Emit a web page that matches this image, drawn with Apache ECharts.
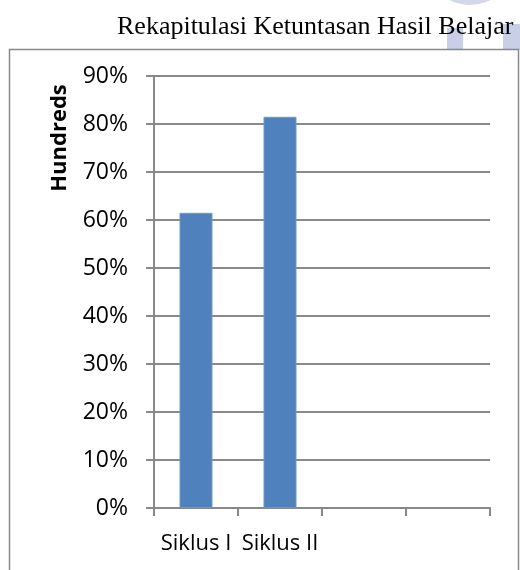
<!DOCTYPE html>
<html>
<head>
	<meta charset="UTF-8">
	<title>Rekapitulasi Ketuntasan Hasil Belajar</title>
	<style>
		html, body { margin: 0; padding: 0; background: #fff; }
		#container { width: 520px; height: 570px; }
	</style>
</head>
<body>
	<div id="container"></div>
	<script src="https://cdn.jsdelivr.net/npm/echarts@6/dist/echarts.min.js"></script>
	<script>
		// data
		var categories = ['Siklus I', 'Siklus II', '', ''];
		var ketuntasan = [61.5, 81.5, null, null];
		var yTicks = [0, 90, 10]; // min, max, interval

		var myChart = echarts.init(document.getElementById('container'));
		var grey = '#898989';
		var sans = '"Open Sans", "Noto Sans", sans-serif';

		var option = {
			animation: false,
			grid: { left: 154, right: 30, top: 76, bottom: 62, containLabel: false },
			graphic: [
				// faint watermark behind the title
				{ type: 'circle', z: -3, shape: { cx: 470, cy: -40, r: 45 }, style: { fill: '#d3d7ea' } },
				{ type: 'rect', z: -3, shape: { x: 447, y: 28, width: 16, height: 22 }, style: { fill: '#c9cfe6' } },
				{ type: 'rect', z: -3, shape: { x: 503, y: 24, width: 17, height: 26 }, style: { fill: '#c9cfe6' } },
				// chart frame
				{ type: 'rect', z: -2, shape: { x: 9.5, y: 49.5, width: 509, height: 540 },
				  style: { fill: '#fff', stroke: grey, lineWidth: 1.5 } },
				{ type: 'text', z: 10, left: 117, top: 14,
				  style: { text: 'Rekapitulasi Ketuntasan Hasil Belajar', font: '26px "Liberation Serif", serif', fill: '#000' } },
				{ type: 'text', z: 10, x: 60, y: 138, rotation: Math.PI / 2,
				  style: { text: 'Hundreds', font: 'bold 22px ' + sans, fill: '#000', align: 'center', verticalAlign: 'middle' } }
			],
			xAxis: {
				type: 'category',
				data: categories,
				boundaryGap: true,
				axisLine: { lineStyle: { color: grey, width: 2 } },
				axisTick: { show: true, interval: 0, length: 8, lineStyle: { color: grey, width: 2 } },
				axisLabel: { interval: 0, margin: 25, color: '#000', fontSize: 22, fontFamily: sans }
			},
			yAxis: {
				type: 'value',
				min: yTicks[0],
				max: yTicks[1],
				interval: yTicks[2],
				axisLine: { show: true, lineStyle: { color: grey, width: 2 } },
				axisTick: { show: true, length: 8, lineStyle: { color: grey, width: 2 } },
				axisLabel: { margin: 26, color: '#000', fontSize: 23, fontFamily: sans, formatter: '{value}%' },
				splitLine: { show: true, lineStyle: { color: grey, width: 2 } }
			},
			series: [
				{
					name: 'Ketuntasan',
					type: 'bar',
					data: ketuntasan,
					barWidth: 33,
					itemStyle: { color: '#4f81bd', borderColor: '#6f97c9', borderWidth: 1 }
				}
			]
		};

		myChart.setOption(option);
	</script>
</body>
</html>
